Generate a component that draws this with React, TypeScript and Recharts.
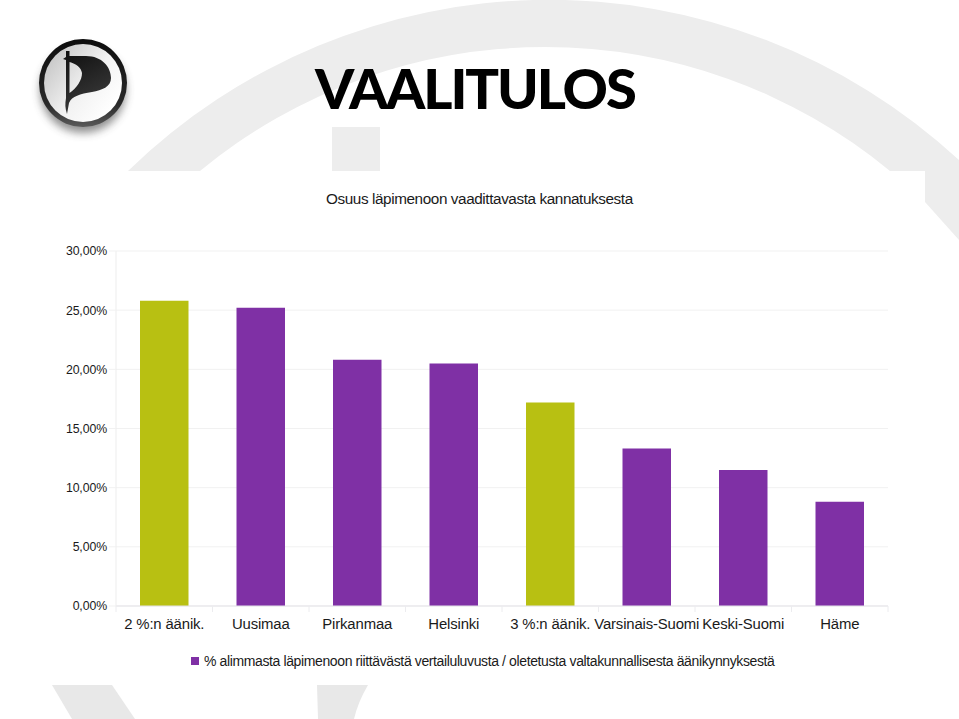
import { BarChart, Bar, Rectangle, XAxis, YAxis, CartesianGrid, Legend } from 'recharts'

const categories = [
  '2 %:n äänik.',
  'Uusimaa',
  'Pirkanmaa',
  'Helsinki',
  '3 %:n äänik.',
  'Varsinais-Suomi',
  'Keski-Suomi',
  'Häme',
]
const shares = [25.8, 25.2, 20.8, 20.5, 17.2, 13.3, 11.5, 8.8]
const barColors = ['#b8c012', '#7f30a5', '#7f30a5', '#7f30a5', '#b8c012', '#7f30a5', '#7f30a5', '#7f30a5']
const yTicks = [0, 5, 10, 15, 20, 25, 30]
const seriesName = '% alimmasta läpimenoon riittävästä vertailuluvusta / oletetusta valtakunnallisesta äänikynnyksestä'

const data = categories.map((name, i) => ({ name, share: shares[i] }))

const FONT = '"Liberation Sans", Arial, sans-serif'
const STEP = 96.5

function formatPct(v: number) {
  return v.toFixed(2).replace('.', ',') + '%'
}

// tick marks sit between the categories in the original, not under them
function CategoryTick({ x, y, payload, index }: any) {
  return (
    <g>
      <line x1={x - STEP / 2} x2={x - STEP / 2} y1={y - 8} y2={y - 2} stroke="#ececef" />
      {index === categories.length - 1 && (
        <line x1={x + STEP / 2} x2={x + STEP / 2} y1={y - 8} y2={y - 2} stroke="#ececef" />
      )}
      <text x={x} y={y + 14.5} textAnchor="middle" fontFamily={FONT} fontSize={14.9} letterSpacing={-0.15} fill="#1a1a1a">
        {payload.value}
      </text>
    </g>
  )
}

function ColoredBar(props: any) {
  return <Rectangle {...props} fill={barColors[props.index]} />
}

function LegendRow() {
  return (
    <div style={{ display: 'flex', alignItems: 'center', fontFamily: FONT, fontSize: 14, letterSpacing: -0.38, color: '#1a1a1a', height: 20 }}>
      <span style={{ width: 8, height: 8, background: '#7f30a5', marginRight: 5, marginTop: -1, flex: 'none' }} />
      <span style={{ whiteSpace: 'nowrap' }}>{seriesName}</span>
    </div>
  )
}

function Backdrop() {
  return (
    <svg width={959} height={719} style={{ position: 'absolute', left: 0, top: 0 }}>
      <path
        d="M128 171 A604 604 0 0 1 959 160 L959 240 L925 202 L925 171 L890 171 A542 542 0 0 0 200 171 Z"
        fill="#ededed"
      />
      <rect x={332} y={127} width={48} height={44} fill="#ededed" />
      <path d="M52 685 L112 685 L135 719 L72 719 Z" fill="#e8e8e8" />
      <path d="M317 685 L368 685 Q358 702 354 719 L318 719 Z" fill="#e8e8e8" />
    </svg>
  )
}

function Logo() {
  return (
    <svg width={140} height={150} style={{ position: 'absolute', left: 20, top: 20 }} viewBox="20 20 140 150">
      <defs>
        <linearGradient id="disc" x1="0" y1="0.1" x2="0.9" y2="0.8">
          <stop offset="0" stopColor="#c0c0c0" />
          <stop offset="0.6" stopColor="#f2f2f2" />
          <stop offset="1" stopColor="#ffffff" />
        </linearGradient>
        <linearGradient id="ring" x1="0" y1="0" x2="0" y2="1">
          <stop offset="0" stopColor="#0c0c0c" />
          <stop offset="0.75" stopColor="#2a2a2a" />
          <stop offset="1" stopColor="#5a5a5a" />
        </linearGradient>
        <linearGradient id="flag" x1="0" y1="0" x2="0.4" y2="1">
          <stop offset="0" stopColor="#0e0e0e" />
          <stop offset="1" stopColor="#3a3a3a" />
        </linearGradient>
        <filter id="drop" x="-30%" y="-30%" width="160%" height="160%">
          <feGaussianBlur stdDeviation="4" />
        </filter>
      </defs>
      <circle cx={83} cy={90} r={43} fill="#444" opacity={0.6} filter="url(#drop)" />
      <circle cx={83} cy={83} r={44} fill="url(#ring)" />
      <circle cx={83} cy={83} r={39} fill="url(#disc)" />
      <path
        d="M66 51 L69.5 51 L69.5 56 L86 56 C102 56 111 67 111 78 C111 87 102 90 92 92 C80 94 72 96 69 103 L67 114 C65 108 65 104 66 98 L66 60 L63 59 L66 57 Z M69.5 62 L69.5 93 C77 88 82 80 82 73 C81 67 76 64 69.5 62 Z"
        fill="url(#flag)"
        fillRule="evenodd"
      />
    </svg>
  )
}

export default function App() {
  return (
    <div style={{ position: 'absolute', left: 0, top: 0, width: 959, height: 719, background: '#fff', overflow: 'hidden' }}>
      <Backdrop />
      <Logo />
      <div
        style={{
          position: 'absolute',
          left: 315,
          top: 51,
          fontFamily: 'Lato, sans-serif',
          fontWeight: 900,
          fontSize: 56,
          lineHeight: '74px',
          letterSpacing: -2.1,
          color: '#000',
          whiteSpace: 'nowrap',
        }}
      >
        VAALITULOS
      </div>
      <div
        style={{
          position: 'absolute',
          left: 326,
          top: 190,
          fontFamily: FONT,
          fontSize: 15.3,
          lineHeight: '18px',
          letterSpacing: -0.41,
          color: '#1a1a1a',
          whiteSpace: 'nowrap',
        }}
      >
        Osuus läpimenoon vaadittavasta kannatuksesta
      </div>
      <div style={{ position: 'absolute', left: 0, top: 0 }}>
        <BarChart
          width={959}
          height={719}
          data={data}
          barSize={48.5}
          margin={{ top: 251, right: 71, bottom: 63, left: 0 }}
        >
          <CartesianGrid vertical={false} stroke="#f1f1f1" />
          <XAxis
            dataKey="name"
            interval={0}
            height={30}
            axisLine={{ stroke: '#e4e3e8' }}
            tickLine={false}
            tick={CategoryTick}
          />
          <YAxis
            width={116}
            domain={[0, 30]}
            ticks={yTicks}
            tickFormatter={formatPct}
            axisLine={{ stroke: '#ededed' }}
            tickLine={{ stroke: '#f1f1f1' }}
            tickSize={7}
            tick={{ fontFamily: FONT, fontSize: 12.3, letterSpacing: -0.1, fill: '#1a1a1a' }}
          />
          <Legend
            verticalAlign="bottom"
            height={20}
            content={<LegendRow />}
            wrapperStyle={{ left: 191, bottom: 48, width: 600 }}
          />
          <Bar dataKey="share" name={seriesName} fill="#7f30a5" isAnimationActive={false} shape={ColoredBar} />
        </BarChart>
      </div>
    </div>
  )
}
